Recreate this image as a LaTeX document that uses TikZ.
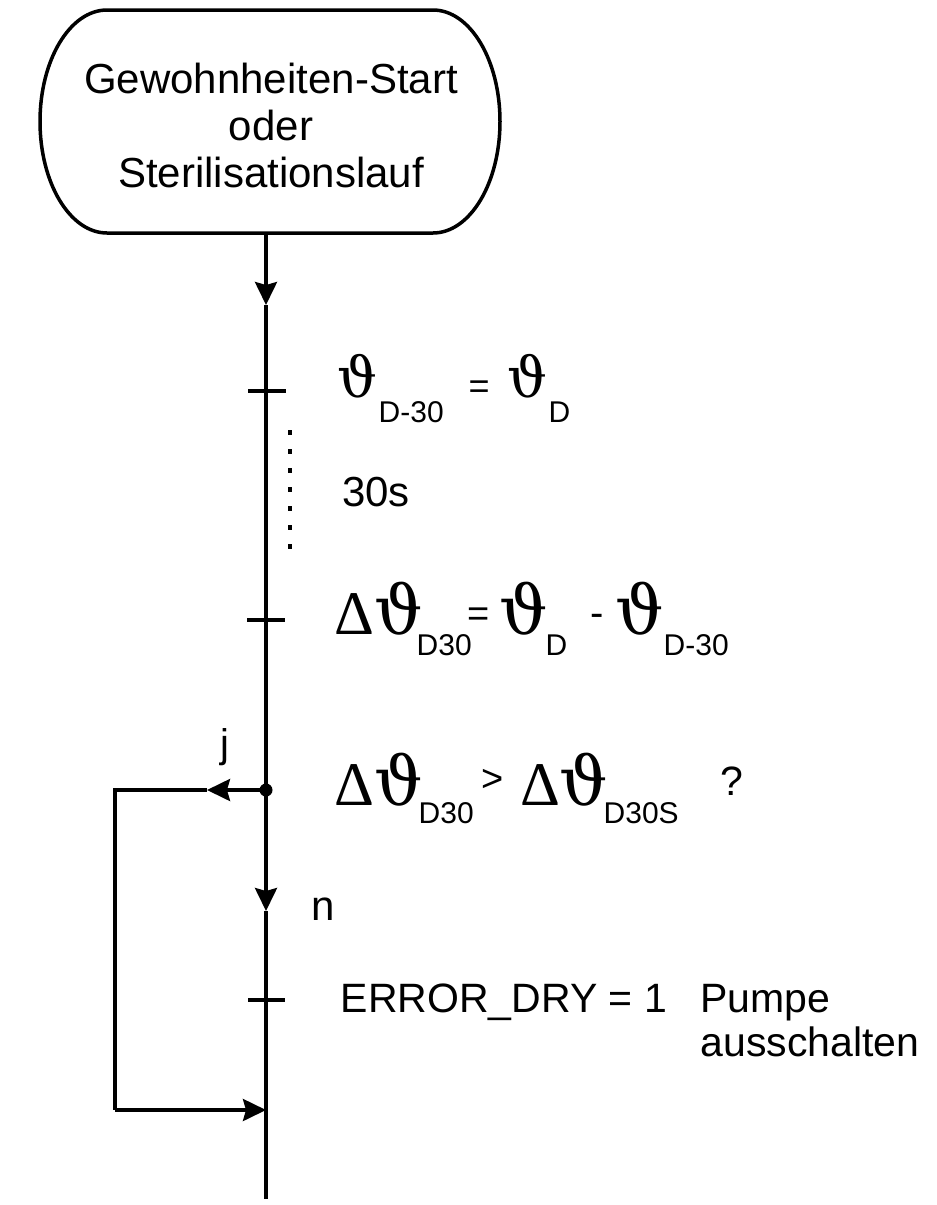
\documentclass[tikz,border=0pt]{standalone}
\usepackage{fontspec}
\setmainfont{Liberation Sans}
\newfontfamily\grk{DejaVu Serif}
\newfontfamily\tms{Liberation Serif}
\usetikzlibrary{arrows.meta,calc}
\newcommand\fs[1]{\fontsize{#1}{#1}\selectfont}
\newcommand\pc[3]{\rlap{\hspace*{#1pt}\raisebox{#2pt}{#3}}}
\newcommand\pcc[3]{\rlap{\hspace*{#1pt}\makebox[0pt]{\raisebox{#2pt}{#3}}}}
\newcommand\VT[1]{{\grk\fs{#1}ϑ}}
\newcommand\DL[1]{{\tms\fs{#1}Δ}}
\begin{document}
\begin{tikzpicture}[x=1pt,y=-1pt,
  ln/.style={line width=3.5pt},
  arr/.style={ln,-{Stealth[length=23pt,width=22pt,inset=3pt]}},
  txt/.style={anchor=base west,inner sep=0pt,font=\fs{41}},
  tick/.style={line width=3.5pt}]
\useasboundingbox (0,0) rectangle (937,1205);
% start terminator
\node[inner sep=0pt,minimum width=460pt,minimum height=223pt] (start) at (270,121.5) {};
\draw[ln,shift={(start.center)}] (-163,-111.5) -- (163,-111.5)
  .. controls (200,-111.5) and (230,-61.5) .. (230,0)
  .. controls (230,61.5) and (200,111.5) .. (163,111.5)
  -- (-163,111.5)
  .. controls (-200,111.5) and (-230,61.5) .. (-230,0)
  .. controls (-230,-61.5) and (-200,-111.5) .. (-163,-111.5) -- cycle;
\node[inner sep=0pt,anchor=base] (starttext) at (271,93)
  {\fs{42}\pcc{0}{0}{Gewohnheiten-Start}\pcc{0}{-47}{oder}\pcc{0}{-94}{Sterilisationslauf}};
% coordinates on the main line
\coordinate (a1) at (266,305);
\coordinate (tk1) at (266,391);
\coordinate (tk2) at (266,620);
\node[circle,fill,inner sep=0pt,minimum size=13pt] (dec) at (266,790) {};
\coordinate (a2) at (266,911);
\coordinate (tk3) at (266,1000);
\coordinate (merge) at (266,1110);
\coordinate (endpt) at (266,1199);
\coordinate (ja) at (207,790);
\coordinate (lc1) at (115,790);
\coordinate (lc2) at (115,1110);
% main line
\draw[arr] (start.south -| a1) -- (a1);
\draw[ln] (a1) -- (dec.center);
\draw[arr] (dec.center) -- (a2);
\draw[ln] (a2) -- (endpt);
% ticks
\draw[tick] ([xshift=-18pt]tk1) -- ([xshift=20pt]tk1);
\draw[tick] ([xshift=-19pt]tk2) -- ([xshift=19pt]tk2);
\draw[tick] ([xshift=-18pt]tk3) -- ([xshift=19pt]tk3);
% dotted interval
\coordinate (d1) at (290,430);
\coordinate (d2) at (290,552);
\draw[line width=3.5pt,dash pattern=on 5pt off 14pt] (d1) -- (d2);
% yes branch
\draw[arr] (dec.center) -- (ja);
\draw[ln] (ja) -- (lc1) -- (lc2);
\draw[arr] (lc2) -- (merge);
% texts
\node[txt] (l1) at (337,397) {\pc{0}{0}{\VT{56}}\pc{41}{-25}{\fs{30}D-30}\pc{131}{-1}{\fs{36}=}\pc{170}{0}{\VT{56}}\pc{211}{-25}{\fs{30}D}};
\node[txt,font=\fs{42}] (t30) at (342,506) {30s};
\node[txt] (l2) at (334,634) {\pc{0}{0}{\DL{62}}\pc{40}{0}{\VT{68}}\pc{82}{-21}{\fs{30}D30}\pc{133}{8}{\fs{38}=}\pc{165}{0}{\VT{68}}\pc{211}{-21}{\fs{30}D}\pc{256}{8}{\fs{40}-}\pc{281}{0}{\VT{68}}\pc{329}{-21}{\fs{30}D-30}};
\node[txt] (l3) at (334,805) {\pc{0}{0}{\DL{62}}\pc{40}{0}{\VT{68}}\pc{84}{-18}{\fs{30}D30}\pc{147}{14}{\fs{38}>}\pc{186}{0}{\DL{62}}\pc{225}{0}{\VT{68}}\pc{269}{-18}{\fs{30}D30S}\pc{386}{10}{\fs{41}?}};
\node[txt,font=\fs{40}] (jl) at (220,757) {j};
\node[txt,font=\fs{42}] (nl) at (311,920) {n};
\node[txt] (l4) at (340,1012) {\pc{0}{0}{ERROR\_DRY = 1}\pc{360}{0}{Pumpe}\pc{360}{-44}{ausschalten}};
\end{tikzpicture}
\end{document}
